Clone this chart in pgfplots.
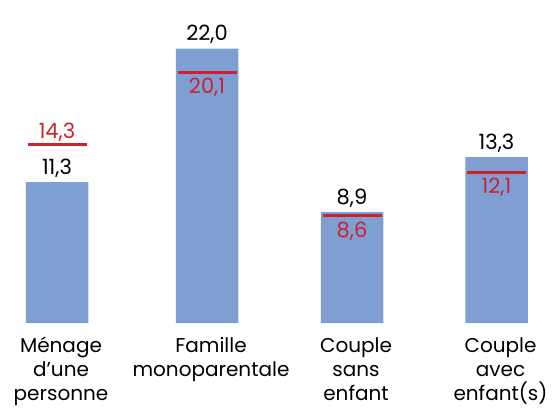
\documentclass[border=0pt]{standalone}
\usepackage{pgfplots}
\pgfplotsset{compat=1.18}
\usepackage{fontspec}
\setmainfont{Poppins}
\definecolor{barblue}{HTML}{7F9FD3}
\definecolor{refred}{HTML}{C8232D}

\begin{document}
\begin{tikzpicture}
\begin{axis}[
  scale only axis, width=553pt, height=323pt,
  xmin=0, xmax=553, ymin=0, ymax=25.9,
  axis line style={draw=none},
  major tick length=0pt, ytick=\empty,
  xtick={57,207,352,496.5},
  xticklabels={{Ménage\\d’une\\personne},{Famille\\monoparentale},{Couple\\sans\\enfant},{Couple\\avec\\enfant(s)}},
  xticklabel style={align=center, font=\fontsize{20}{24}\selectfont, anchor=north, inner sep=0pt, yshift=-14pt, xshift=4pt},
  clip=false,
]
% bars (black labels)
\addplot[ybar, bar width=62.5pt, fill=barblue, draw=none,
  nodes near coords, point meta=explicit symbolic,
  every node near coord/.append style={font=\fontsize{21}{24}\selectfont, text=black, inner sep=0pt, text depth=0pt, yshift=7.5pt}]
  coordinates {(57,11.3) [11,3] (207,22.0) [22,0] (352,8.9) [8,9] (496.5,13.3) [13,3]};
% red reference lines
\addplot[only marks, mark=-, mark size=29.5pt, mark options={line width=3pt, draw=refred}]
  coordinates {(57,14.3) (207,20.1) (352,8.6) (496.5,12.1)};
% red labels above the line
\addplot[draw=none, nodes near coords, point meta=explicit symbolic,
  every node near coord/.append style={font=\fontsize{21}{24}\selectfont, text=refred, inner sep=0pt, text depth=0pt, yshift=6pt}]
  coordinates {(57,14.3) [14,3]};
% red labels below the line
\addplot[draw=none, nodes near coords, point meta=explicit symbolic,
  every node near coord/.append style={font=\fontsize{21}{24}\selectfont, text=refred, inner sep=0pt, text depth=0pt, yshift=-21.5pt}]
  coordinates {(207,20.1) [20,1] (352,8.6) [8,6] (496.5,12.1) [12,1]};
\end{axis}
\pgfresetboundingbox
\path (0pt,-84pt) rectangle (553pt,323pt);
\end{tikzpicture}
\end{document}
